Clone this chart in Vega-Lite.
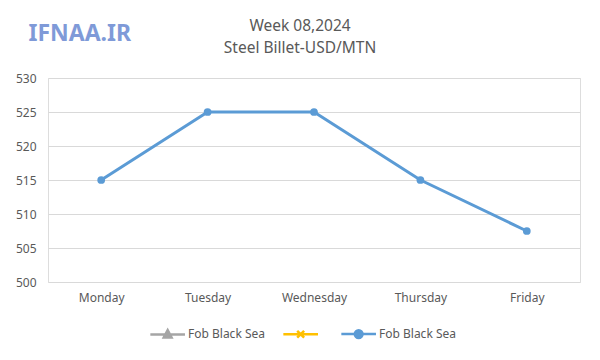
{
  "$schema": "https://vega.github.io/schema/vega-lite/v6.json",
  "autosize": {"type": "none"},
  "padding": {"left": 48, "top": 78, "right": 20, "bottom": 78},
  "width": 532,
  "height": 204,
  "background": "white",
  "title": {
    "text": ["Week 08,2024", "Steel Billet-USD/MTN"],
    "font": "Noto Sans",
    "fontSize": 15.5,
    "fontWeight": "normal",
    "color": "#595959",
    "lineHeight": 22,
    "offset": -34,
    "dx": -14,
    "anchor": "middle"
  },
  "data": {
    "values": [
      {"day": "Monday", "price": 515, "series": "C"},
      {"day": "Tuesday", "price": 525, "series": "C"},
      {"day": "Wednesday", "price": 525, "series": "C"},
      {"day": "Thursday", "price": 515, "series": "C"},
      {"day": "Friday", "price": 507.5, "series": "C"}
    ]
  },
  "encoding": {
    "x": {
      "field": "day",
      "type": "nominal",
      "sort": null,
      "scale": {"type": "point", "padding": 0.5},
      "axis": {
        "title": null,
        "labelAngle": 0,
        "ticks": false,
        "domain": false,
        "grid": false,
        "labelPadding": 10,
        "labelFont": "Noto Sans",
        "labelFontSize": 12,
        "labelColor": "#595959"
      }
    },
    "y": {
      "field": "price",
      "type": "quantitative",
      "scale": {"domain": [500, 530], "nice": false, "zero": false},
      "axis": {
        "values": [500, 505, 510, 515, 520, 525, 530],
        "ticks": false,
        "domain": false,
        "gridColor": "#d9d9d9",
        "gridWidth": 1,
        "labelPadding": 12,
        "labelFont": "Noto Sans",
        "labelFontSize": 12,
        "labelColor": "#595959",
        "title": "IFNAA.IR",
        "titleAngle": 0,
        "titleAlign": "left",
        "titleBaseline": "top",
        "titleX": -20,
        "titleY": -56,
        "titleFont": "Noto Sans",
        "titleFontSize": 23,
        "titleFontWeight": "bold",
        "titleColor": "#7f9ad8"
      }
    }
  },
  "layer": [
    {
      "mark": {"type": "line", "strokeWidth": 3},
      "encoding": {
        "color": {
          "field": "series",
          "type": "nominal",
          "scale": {"domain": ["A", "B", "C"], "range": ["#a5a5a5", "#ffc000", "#5b9bd5"]},
          "legend": {
            "orient": "none",
            "legendX": 101,
            "legendY": 246,
            "direction": "horizontal",
            "title": null,
            "labelExpr": "datum.value == 'B' ? '' : 'Fob Black Sea'",
            "labelFont": "Noto Sans",
            "labelFontSize": 12,
            "labelColor": "#595959",
            "symbolSize": 300,
            "symbolStrokeWidth": 2.5,
            "labelOffset": 19,
            "columnPadding": 13,
            "encode": {
              "symbols": {
                "update": {
                  "shape": {"signal": "datum.value == 'A' ? 'M-1,0H3M1,-0.5L1.45,0.35L0.55,0.35Z' : datum.value == 'B' ? 'M-1,0H3M0.6,-0.4L1.4,0.4M0.6,0.4L1.4,-0.4' : 'M-1,0H3M1.45,0A0.45,0.45,0,1,1,0.55,0A0.45,0.45,0,1,1,1.45,0Z'"},
                  "fill": {"signal": "scale('color', datum.value)"},
                  "stroke": {"signal": "scale('color', datum.value)"},
                  "opacity": {"value": 1}
                }
              }
            }
          }
        }
      }
    },
    {
      "mark": {"type": "point", "filled": true, "shape": "circle", "size": 60, "color": "#5b9bd5", "opacity": 1}
    }
  ]
}
